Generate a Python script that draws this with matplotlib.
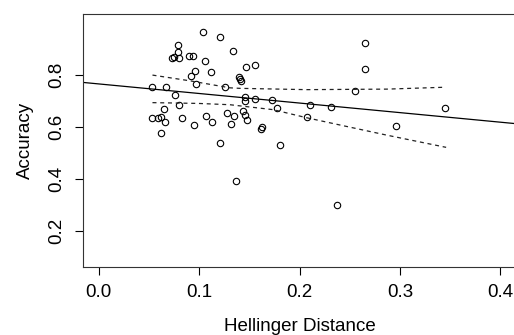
import matplotlib
matplotlib.use("Agg")
import matplotlib.pyplot as plt

plt.rcParams['font.family'] = ['Liberation Sans', 'DejaVu Sans']

# scatter: hellinger distance vs accuracy
hellinger = [0.1034, 0.1203, 0.1336, 0.0791, 0.0791, 0.0725, 0.0748, 0.0801, 0.0894, 0.0940,
             0.1057, 0.1466, 0.0957, 0.1114, 0.0917, 0.1393, 0.1403, 0.1413, 0.0970, 0.0535,
             0.0665, 0.1259, 0.0761, 0.1453, 0.1453, 0.0798, 0.0651, 0.1433, 0.1276, 0.1349,
             0.1453, 0.0535, 0.0591, 0.0615, 0.1070, 0.0831, 0.1473, 0.0661, 0.1127, 0.0950,
             0.1319, 0.0615, 0.1203, 0.1366, 0.2652, 0.2652, 0.1555, 0.2549, 0.1552, 0.1725,
             0.2107, 0.2316, 0.1775, 0.3453, 0.2077, 0.2961, 0.1612, 0.1625, 0.1808, 0.2370]
accuracy = [0.965, 0.947, 0.895, 0.917, 0.888, 0.865, 0.869, 0.868, 0.874, 0.874,
            0.854, 0.832, 0.817, 0.812, 0.796, 0.792, 0.786, 0.777, 0.765, 0.755,
            0.756, 0.756, 0.725, 0.718, 0.701, 0.686, 0.672, 0.663, 0.654, 0.642,
            0.648, 0.635, 0.637, 0.641, 0.642, 0.636, 0.628, 0.619, 0.619, 0.608,
            0.612, 0.577, 0.538, 0.392, 0.924, 0.824, 0.841, 0.741, 0.708, 0.705,
            0.686, 0.679, 0.674, 0.673, 0.641, 0.604, 0.595, 0.601, 0.533, 0.302]

# fitted line
intercept = 0.767
slope = -0.368

# dashed bands
upper_x = [0.0535, 0.0907, 0.1306, 0.1405, 0.2070, 0.2868, 0.3427]
upper_y = [0.801, 0.779, 0.752, 0.750, 0.745, 0.747, 0.754]
lower_x = [0.0535, 0.0990, 0.1306, 0.1737, 0.2070, 0.2402, 0.2868, 0.3460]
lower_y = [0.695, 0.692, 0.687, 0.668, 0.637, 0.609, 0.570, 0.523]

xticks = [0.0, 0.1, 0.2, 0.3, 0.4]
yticks = [0.2, 0.4, 0.6, 0.8]

fig = plt.figure(figsize=(5.14, 3.35), dpi=100)
ax = fig.add_axes([0.1609, 0.2040, 0.8438, 0.7542])

ax.set_xlim(-0.016, 0.416)
ax.set_ylim(0.064, 1.036)

ax.plot(hellinger, accuracy, 'o', mfc='none', mec='black', ms=4.6, mew=0.8)
ax.axline((0, intercept), slope=slope, color='black', lw=0.9)
ax.plot(upper_x, upper_y, color='#222222', lw=0.9, dashes=(3.2, 3))
ax.plot(lower_x, lower_y, color='#222222', lw=0.9, dashes=(3.2, 3))

ax.set_xticks(xticks)
ax.set_xticklabels(['%.1f' % t for t in xticks])
ax.set_yticks(yticks)
ax.set_yticklabels(['%.1f' % t for t in yticks], rotation=90, va='center')
ax.tick_params(direction='out', length=5.8, width=0.8, labelsize=13.5, pad=7)

ax.spines['right'].set_visible(False)
for s in ['left', 'bottom', 'top']:
    ax.spines[s].set_linewidth(0.8)
    ax.spines[s].set_color('#333333')

ax.set_xlabel('Hellinger Distance', fontsize=13.5, labelpad=12)
ax.set_ylabel('Accuracy', fontsize=13.5, labelpad=10)

fig.savefig('out.png', dpi=100)
